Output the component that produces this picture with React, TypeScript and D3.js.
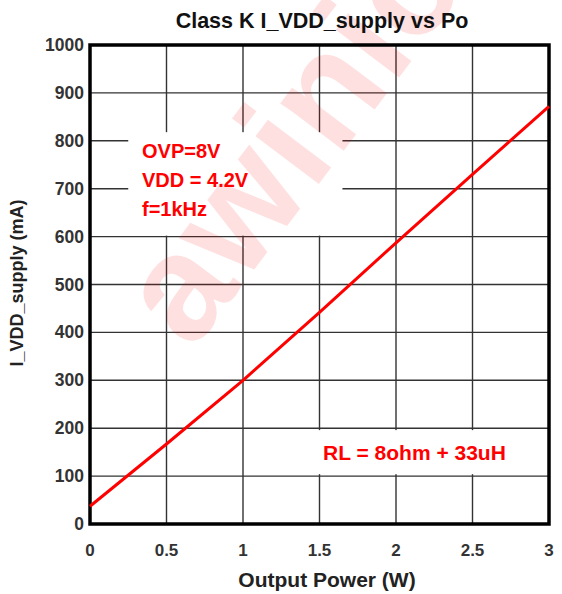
import React, { useEffect, useRef } from "react";
import * as d3 from "d3";

// Output power (W) vs supply current (mA)
const powerW = [0, 0.5, 1, 1.5, 2, 2.5, 3];
const supplyMa = [37, 167, 300, 442, 587, 730, 872];

const xTicks = [0, 0.5, 1, 1.5, 2, 2.5, 3];
const yTicks = [0, 100, 200, 300, 400, 500, 600, 700, 800, 900, 1000];

const noteLines = ["OVP=8V", "VDD = 4.2V", "f=1kHz"];
const loadNote = "RL = 8ohm + 33uH";

const title = "Class K I_VDD_supply vs Po";
const xTitle = "Output Power (W)";
const yTitle = "I_VDD_supply (mA)";
const watermark = "awinic";

const FONT = "'Liberation Sans', Arial, sans-serif";

const App: React.FC = () => {
  const ref = useRef<SVGSVGElement | null>(null);
  const width = 562;
  const height = 594;

  useEffect(() => {
    if (!ref.current) return;
    const svg = d3.select(ref.current);
    svg.selectAll("*").remove();

    const margin = { top: 45, right: 13, bottom: 70, left: 90 };
    const x = d3.scaleLinear().domain([0, 3]).range([margin.left, width - margin.right]);
    const y = d3.scaleLinear().domain([0, 1000]).range([height - margin.bottom, margin.top]);

    svg.append("rect").attr("width", width).attr("height", height).attr("fill", "#fff");

    // grid
    const grid = svg.append("g").attr("stroke", "#333").attr("stroke-width", 1.4);
    grid
      .selectAll("line.v")
      .data(xTicks.slice(1, -1))
      .join("line")
      .attr("x1", (d) => x(d))
      .attr("x2", (d) => x(d))
      .attr("y1", y(1000))
      .attr("y2", y(0));
    grid
      .selectAll("line.h")
      .data(yTicks.slice(1, -1))
      .join("line")
      .attr("x1", x(0))
      .attr("x2", x(3))
      .attr("y1", (d) => y(d))
      .attr("y2", (d) => y(d));

    // white boxes behind annotations
    svg
      .append("rect")
      .attr("x", x(0.25))
      .attr("y", y(818))
      .attr("width", x(1.65) - x(0.25))
      .attr("height", y(602) - y(818))
      .attr("fill", "#fff");
    svg
      .append("rect")
      .attr("x", x(1.41))
      .attr("y", y(196))
      .attr("width", x(2.99) - x(1.41))
      .attr("height", y(104) - y(196))
      .attr("fill", "#fff");

    // watermark
    svg
      .append("text")
      .attr("transform", "translate(192,352) rotate(-53)")
      .attr("font-family", FONT)
      .attr("font-weight", "bold")
      .attr("font-size", 150)
      .attr("fill", "rgb(255,0,0)")
      .attr("fill-opacity", 0.12)
      .text(watermark);

    // frame
    svg
      .append("rect")
      .attr("x", x(0))
      .attr("y", y(1000))
      .attr("width", x(3) - x(0))
      .attr("height", y(0) - y(1000))
      .attr("fill", "none")
      .attr("stroke", "#000")
      .attr("stroke-width", 3.5);

    // data line
    const line = d3
      .line<number>()
      .x((_, i) => x(powerW[i]))
      .y((d) => y(d));
    svg
      .append("path")
      .datum(supplyMa)
      .attr("fill", "none")
      .attr("stroke", "#f00")
      .attr("stroke-width", 3)
      .attr("d", line);

    // tick labels
    svg
      .append("g")
      .selectAll("text")
      .data(xTicks)
      .join("text")
      .attr("x", (d) => x(d))
      .attr("y", y(0) + 32)
      .attr("text-anchor", "middle")
      .attr("font-family", FONT)
      .attr("font-weight", "bold")
      .attr("font-size", 17)
      .attr("fill", "#333")
      .text((d) => String(d));
    svg
      .append("g")
      .selectAll("text")
      .data(yTicks)
      .join("text")
      .attr("x", x(0) - 6)
      .attr("y", (d) => y(d) + 6)
      .attr("text-anchor", "end")
      .attr("font-family", FONT)
      .attr("font-weight", "bold")
      .attr("font-size", 17.5)
      .attr("fill", "#333")
      .text((d) => String(d));

    // titles
    svg
      .append("text")
      .attr("x", 322)
      .attr("y", 28)
      .attr("text-anchor", "middle")
      .attr("font-family", FONT)
      .attr("font-weight", "bold")
      .attr("font-size", 21.5)
      .attr("fill", "#111")
      .text(title);
    svg
      .append("text")
      .attr("x", 327)
      .attr("y", 587)
      .attr("text-anchor", "middle")
      .attr("font-family", FONT)
      .attr("font-weight", "bold")
      .attr("font-size", 21)
      .attr("fill", "#222")
      .text(xTitle);
    svg
      .append("text")
      .attr("transform", `translate(23,${283}) rotate(-90)`)
      .attr("text-anchor", "middle")
      .attr("font-family", FONT)
      .attr("font-weight", "bold")
      .attr("font-size", 18)
      .attr("fill", "#222")
      .text(yTitle);

    // annotations
    svg
      .append("g")
      .selectAll("text")
      .data(noteLines)
      .join("text")
      .attr("x", 142)
      .attr("y", (_, i) => 158 + i * 29)
      .attr("font-family", FONT)
      .attr("font-weight", "bold")
      .attr("font-size", 20)
      .attr("fill", "#f00")
      .text((d) => d);
    svg
      .append("text")
      .attr("x", 323)
      .attr("y", 460)
      .attr("font-family", FONT)
      .attr("font-weight", "bold")
      .attr("font-size", 21)
      .attr("fill", "#f00")
      .text(loadNote);
  }, []);

  return (
    <svg
      ref={ref}
      width={width}
      height={height}
      style={{ position: "absolute", left: 0, top: 0 }}
    ></svg>
  );
};

export default App;
